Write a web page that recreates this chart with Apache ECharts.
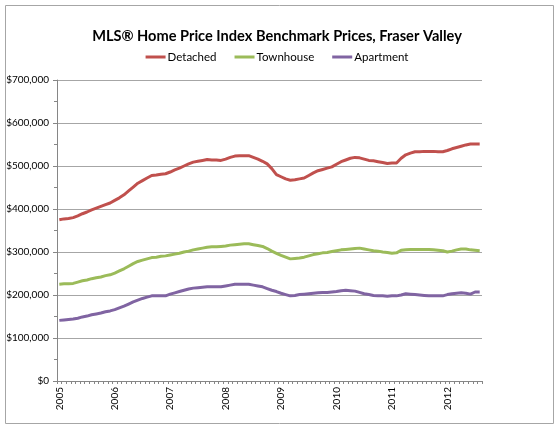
<!DOCTYPE html>
<html>
<head>
<meta charset="utf-8">
<script src="https://cdn.jsdelivr.net/npm/echarts@6/dist/echarts.min.js"></script>
<style>html,body{margin:0;padding:0;background:#fff;}#c{width:554px;height:425px;}</style>
</head>
<body>
<div id="c"></div>
<script>
// Monthly categories Jan 2005 .. Aug 2012
const startYear = 2005;
const monthCount = 92;
const months = [];
for (let i = 0; i < monthCount; i++) {
  const y = startYear + Math.floor(i / 12);
  const m = (i % 12) + 1;
  months.push(y + '-' + (m < 10 ? '0' + m : m));
}
const seriesNames = ['Detached', 'Townhouse', 'Apartment'];
// values in $ thousands
const detached = [375,377,378,380,384,389,393,398,402,406,410,414,420,426,433,442,451,460,466,472,478,479,481,482,486,491,495,500,505,509,511,513,515,514,514,513,516,520,523,524,524,524,520,516,511,505,494,480,475,470,467,468,470,472,478,484,489,492,495,498,504,510,514,518,520,519,516,513,512,510,508,506,507,507,518,526,530,533,533,534,534,534,533,533,536,540,543,546,549,551,551,551];
const townhouse = [225,226,226,227,230,233,235,238,240,242,245,247,251,256,261,267,273,278,281,284,287,288,290,291,293,295,297,300,302,305,307,309,311,312,312,313,314,316,317,318,319,319,317,315,313,308,302,297,292,288,284,285,286,288,291,294,296,298,299,301,303,305,306,307,308,309,307,305,303,302,300,299,297,298,304,305,306,306,306,306,306,305,304,303,300,302,305,307,307,305,304,303];
const apartment = [141,142,143,144,146,149,151,154,156,158,161,163,166,170,174,179,184,188,192,195,198,198,198,198,202,205,208,211,214,216,217,218,219,219,219,219,221,223,225,225,225,225,223,221,219,215,211,208,204,201,198,199,201,202,203,204,205,206,206,207,208,210,211,210,209,206,203,201,199,198,198,197,198,198,200,203,202,201,200,199,198,198,198,198,201,203,204,205,204,202,207,207];
const yTicks = [0, 100000, 200000, 300000, 400000, 500000, 600000, 700000];
const colors = ['#C0504D', '#9BBB59', '#8064A2'];

const font = 'Lato, "Open Sans", sans-serif';
const chart = echarts.init(document.getElementById('c'), null, {renderer: 'canvas'});
const toDollars = arr => arr.map(v => v * 1000);
const fmt = v => '$' + String(v).replace(/\B(?=(\d{3})+(?!\d))/g, ',');

chart.setOption({
  animation: false,
  backgroundColor: '#fff',
  color: colors,
  graphic: [{
    type: 'rect', left: 3, top: 3, shape: {width: 548, height: 418},
    style: {fill: 'none', stroke: '#a6a6a6', lineWidth: 1}, silent: true
  }],
  title: {
    text: 'MLS® Home Price Index Benchmark Prices, Fraser Valley',
    left: 'center', top: 24,
    textStyle: {fontFamily: font, fontWeight: 'bold', fontSize: 14.6, color: '#000'}
  },
  legend: {
    top: 46, left: 'center',
    icon: 'rect', itemWidth: 20, itemHeight: 3, itemGap: 18,
    data: seriesNames,
    textStyle: {fontFamily: font, fontSize: 11.5, color: '#000', padding: [0,0,0,-3]}
  },
  grid: {left: 57, right: 72, top: 80, bottom: 44, containLabel: false},
  xAxis: {
    type: 'category', data: months, boundaryGap: true,
    axisLine: {lineStyle: {color: '#868686', width: 1}},
    axisTick: {show: true, interval: 0, length: 3, lineStyle: {color: '#868686'}},
    axisLabel: {
      interval: 11, rotate: 90, margin: 6,
      fontFamily: font, fontSize: 10, color: '#000',
      formatter: v => v.slice(0, 4)
    },
    splitLine: {show: false}
  },
  yAxis: {
    type: 'value', min: yTicks[0], max: yTicks[yTicks.length - 1], interval: 100000,
    axisLine: {show: true, lineStyle: {color: '#868686', width: 1}},
    axisTick: {show: true, length: 4, lineStyle: {color: '#868686'}},
    minorTick: {show: true, splitNumber: 2, length: 3, lineStyle: {color: '#868686'}},
    axisLabel: {fontFamily: font, fontSize: 10, color: '#000', margin: 8, formatter: fmt},
    splitLine: {show: true, lineStyle: {color: '#a6a6a6', width: 1}}
  },
  series: [
    {name: seriesNames[0], type: 'line', data: toDollars(detached), showSymbol: false, symbol: 'none', lineStyle: {width: 3, color: colors[0]}},
    {name: seriesNames[1], type: 'line', data: toDollars(townhouse), showSymbol: false, symbol: 'none', lineStyle: {width: 3, color: colors[1]}},
    {name: seriesNames[2], type: 'line', data: toDollars(apartment), showSymbol: false, symbol: 'none', lineStyle: {width: 3, color: colors[2]}}
  ]
});
</script>
</body>
</html>
